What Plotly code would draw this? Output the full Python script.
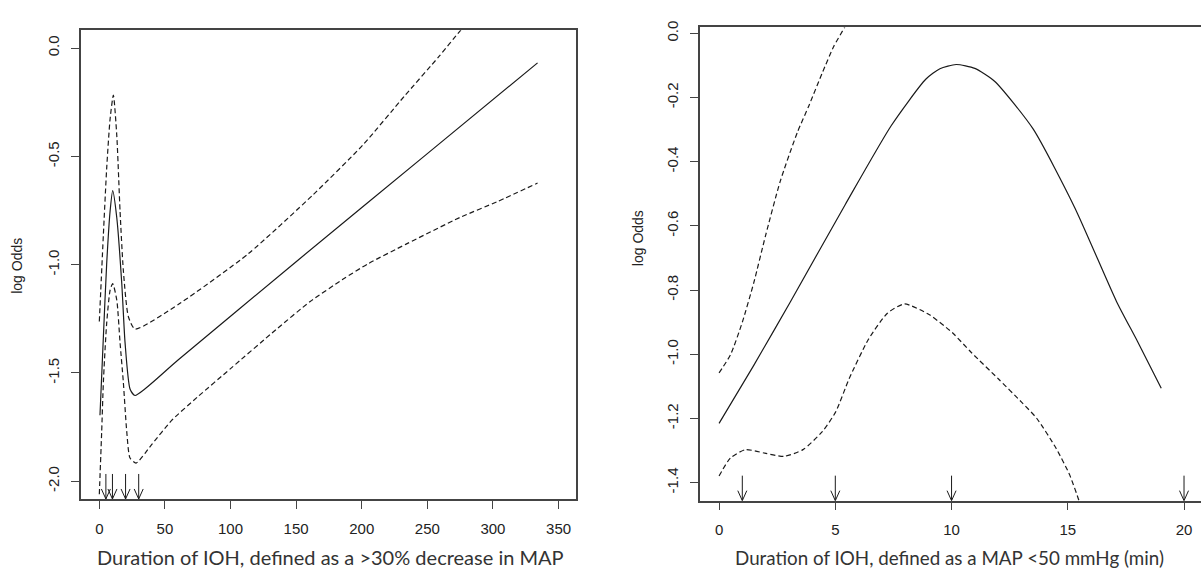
import plotly.graph_objects as go

# ---------------- Left panel data (>30% decrease in MAP) ----------------
left_fit_x = [0.5, 3.1, 5.6, 8.2, 10.2, 13.3, 17.1, 19.6, 23.4, 27.2, 60, 150, 250, 334]
left_fit_y = [-1.695, -1.33, -0.996, -0.753, -0.658, -0.783, -1.087, -1.36, -1.574, -1.604,
              -1.44, -0.986, -0.487, -0.068]

left_up_x = [0, 3.1, 5.6, 8.2, 10.7, 13.3, 15.8, 18.3, 22.1, 27.2, 61.5, 113.4, 162.9, 200.7,
             232.7, 258.9, 275, 290]
left_up_y = [-1.262, -0.859, -0.555, -0.327, -0.217, -0.403, -0.753, -1.026, -1.239, -1.297,
             -1.178, -0.95, -0.677, -0.448, -0.22, -0.038, 0.08, 0.18]

left_lo_x = [0, 1.8, 3.1, 5.6, 8.2, 10.2, 13.3, 15.8, 18.3, 20.9, 23.4, 28, 40, 55, 75, 100,
             134.6, 160.7, 185, 204.7, 233.8, 274.8, 304, 334]
left_lo_y = [-2.06, -1.77, -1.54, -1.27, -1.118, -1.087, -1.163, -1.36, -1.543, -1.771, -1.893,
             -1.916, -1.83, -1.72, -1.61, -1.48, -1.30, -1.17, -1.07, -0.996, -0.905, -0.782,
             -0.707, -0.623]

left_arrows = [5, 10, 20, 30]
left_xticks = [0, 50, 100, 150, 200, 250, 300, 350]
left_yticks = [0.0, -0.5, -1.0, -1.5, -2.0]
left_yticktext = ["0.0", "-0.5", "-1.0", "-1.5", "-2.0"]

# ---------------- Right panel data (MAP < 50 mmHg) ----------------
right_fit_x = [0, 1.48, 3.07, 5.43, 7.41, 8.89, 9.5, 10.2, 11.0, 11.85, 13.5, 15.3, 17.1, 18.0,
               19.02]
right_fit_y = [-1.215, -1.036, -0.836, -0.533, -0.287, -0.143, -0.110, -0.097, -0.109, -0.149,
               -0.297, -0.543, -0.836, -0.96, -1.106]

right_up_x = [0, 0.5, 1.0, 1.5, 2.0, 2.63, 3.37, 3.86, 4.44, 4.93, 5.39, 5.6]
right_up_y = [-1.058, -1.0, -0.9, -0.775, -0.63, -0.461, -0.308, -0.226, -0.123,
              -0.041, 0.018, 0.05]

right_lo_x = [0, 0.49, 1.14, 1.97, 2.79, 3.61, 4.44, 5.02, 5.59, 6.42, 7.24, 7.98, 9.05, 10.04,
              10.86, 12.02, 13.01, 13.67, 14.49, 15.07, 15.48, 15.6]
right_lo_y = [-1.379, -1.323, -1.297, -1.308, -1.318, -1.297, -1.241, -1.179, -1.077, -0.954,
              -0.872, -0.843, -0.877, -0.933, -0.995, -1.077, -1.149, -1.2, -1.292, -1.374,
              -1.456, -1.49]

right_arrows = [1, 5, 10, 20]
right_xticks = [0, 5, 10, 15, 20]
right_yticks = [0.0, -0.2, -0.4, -0.6, -0.8, -1.0, -1.2, -1.4]
right_yticktext = ["0.0", "-0.2", "-0.4", "-0.6", "-0.8", "-1.0", "-1.2", "-1.4"]

left_xtitle = "Duration of IOH, defined as a >30% decrease in MAP"
right_xtitle = "Duration of IOH, defined as a MAP <50 mmHg (min)"
ytitle = "log Odds"

# ---------------- Figure ----------------
W, H = 1201, 579
LINE = "#1a1a1a"
AX = "#444444"
TICKFONT = dict(family="Liberation Sans, Arial, sans-serif", size=15, color="#222222")
LTITLEFONT = dict(family="Lato, Open Sans, sans-serif", size=20, color="#333333")
RTITLEFONT = dict(family="Lato, Open Sans, sans-serif", size=18.8, color="#333333")
LABFONT = dict(family="Liberation Sans, Arial, sans-serif", size=14, color="#222222")

L_RANGE_X = [-14.2, 363.3]
L_RANGE_Y = [-2.082, 0.083]
R_RANGE_X = [-0.82, 20.73]
R_RANGE_Y = [-1.456, 0.0185]

fig = go.Figure()

def add_line(x, y, xa, ya, dashed):
    fig.add_trace(go.Scatter(
        x=x, y=y, xaxis=xa, yaxis=ya, mode="lines",
        line=dict(color=LINE, width=1.2, dash="5px,3px" if dashed else "solid",
                  shape="spline", smoothing=0.6),
        showlegend=False, hoverinfo="skip", cliponaxis=True))

add_line(left_fit_x, left_fit_y, "x", "y", False)
add_line(left_up_x, left_up_y, "x", "y", True)
add_line(left_lo_x, left_lo_y, "x", "y", True)
add_line(right_fit_x, right_fit_y, "x2", "y2", False)
add_line(right_up_x, right_up_y, "x2", "y2", True)
add_line(right_lo_x, right_lo_y, "x2", "y2", True)

ARROW_PATH = "M0,0 L0,25 M-4.5,10 L0,0 L4.5,10"
shapes = []
for a in left_arrows:
    shapes.append(dict(type="path", xref="x", yref="y", xsizemode="pixel", ysizemode="pixel",
                       xanchor=a, yanchor=L_RANGE_Y[0], path=ARROW_PATH,
                       line=dict(color=LINE, width=1)))
for a in right_arrows:
    shapes.append(dict(type="path", xref="x2", yref="y2", xsizemode="pixel", ysizemode="pixel",
                       xanchor=a, yanchor=R_RANGE_Y[0], path=ARROW_PATH,
                       line=dict(color=LINE, width=1)))

axis_common = dict(showgrid=False, zeroline=False, showline=True, linecolor=AX, linewidth=1.5,
                   ticks="outside", ticklen=8, tickcolor=AX, tickwidth=1.2, tickfont=TICKFONT)

fig.update_layout(
    width=W, height=H, autosize=False,
    margin=dict(l=0, r=0, t=0, b=0),
    paper_bgcolor="white", plot_bgcolor="white",
    shapes=shapes,
    xaxis=dict(domain=[80.7 / W, 576 / W], range=L_RANGE_X, tickvals=left_xticks,
               mirror=True, anchor="y", ticklabelstandoff=7, **axis_common),
    yaxis=dict(domain=[(H - 498) / H, (H - 23.5) / H], range=L_RANGE_Y, tickvals=left_yticks,
               ticktext=left_yticktext, tickangle=-90, mirror=True, anchor="x",
               ticklabelstandoff=6, **axis_common),
    xaxis2=dict(domain=[700 / W, 1.0], range=R_RANGE_X, tickvals=right_xticks,
                mirror=True, anchor="y2", ticklabelstandoff=7, **axis_common),
    yaxis2=dict(domain=[(H - 499.7) / H, (H - 20.7) / H], range=R_RANGE_Y,
                tickvals=right_yticks, ticktext=right_yticktext, tickangle=-90,
                mirror=False, anchor="x2", ticklabelstandoff=6, **axis_common),
    annotations=[
        dict(text=left_xtitle, xref="paper", yref="paper", x=330 / W, y=(H - 557) / H,
             showarrow=False, font=LTITLEFONT, xanchor="center", yanchor="middle"),
        dict(text=right_xtitle, xref="paper", yref="paper", x=949 / W, y=(H - 557) / H,
             showarrow=False, font=RTITLEFONT, xanchor="center", yanchor="middle"),
        dict(text=ytitle, xref="paper", yref="paper", x=17 / W, y=(H - 262) / H,
             showarrow=False, textangle=-90, xanchor="center", yanchor="middle", font=LABFONT),
        dict(text=ytitle, xref="paper", yref="paper", x=638 / W, y=(H - 234) / H,
             showarrow=False, textangle=-90, xanchor="center", yanchor="middle", font=LABFONT),
    ],
)

fig.write_html("out.html", config={"displayModeBar": False},
               post_script="document.body.style.margin='0';document.body.style.overflow='hidden';")
